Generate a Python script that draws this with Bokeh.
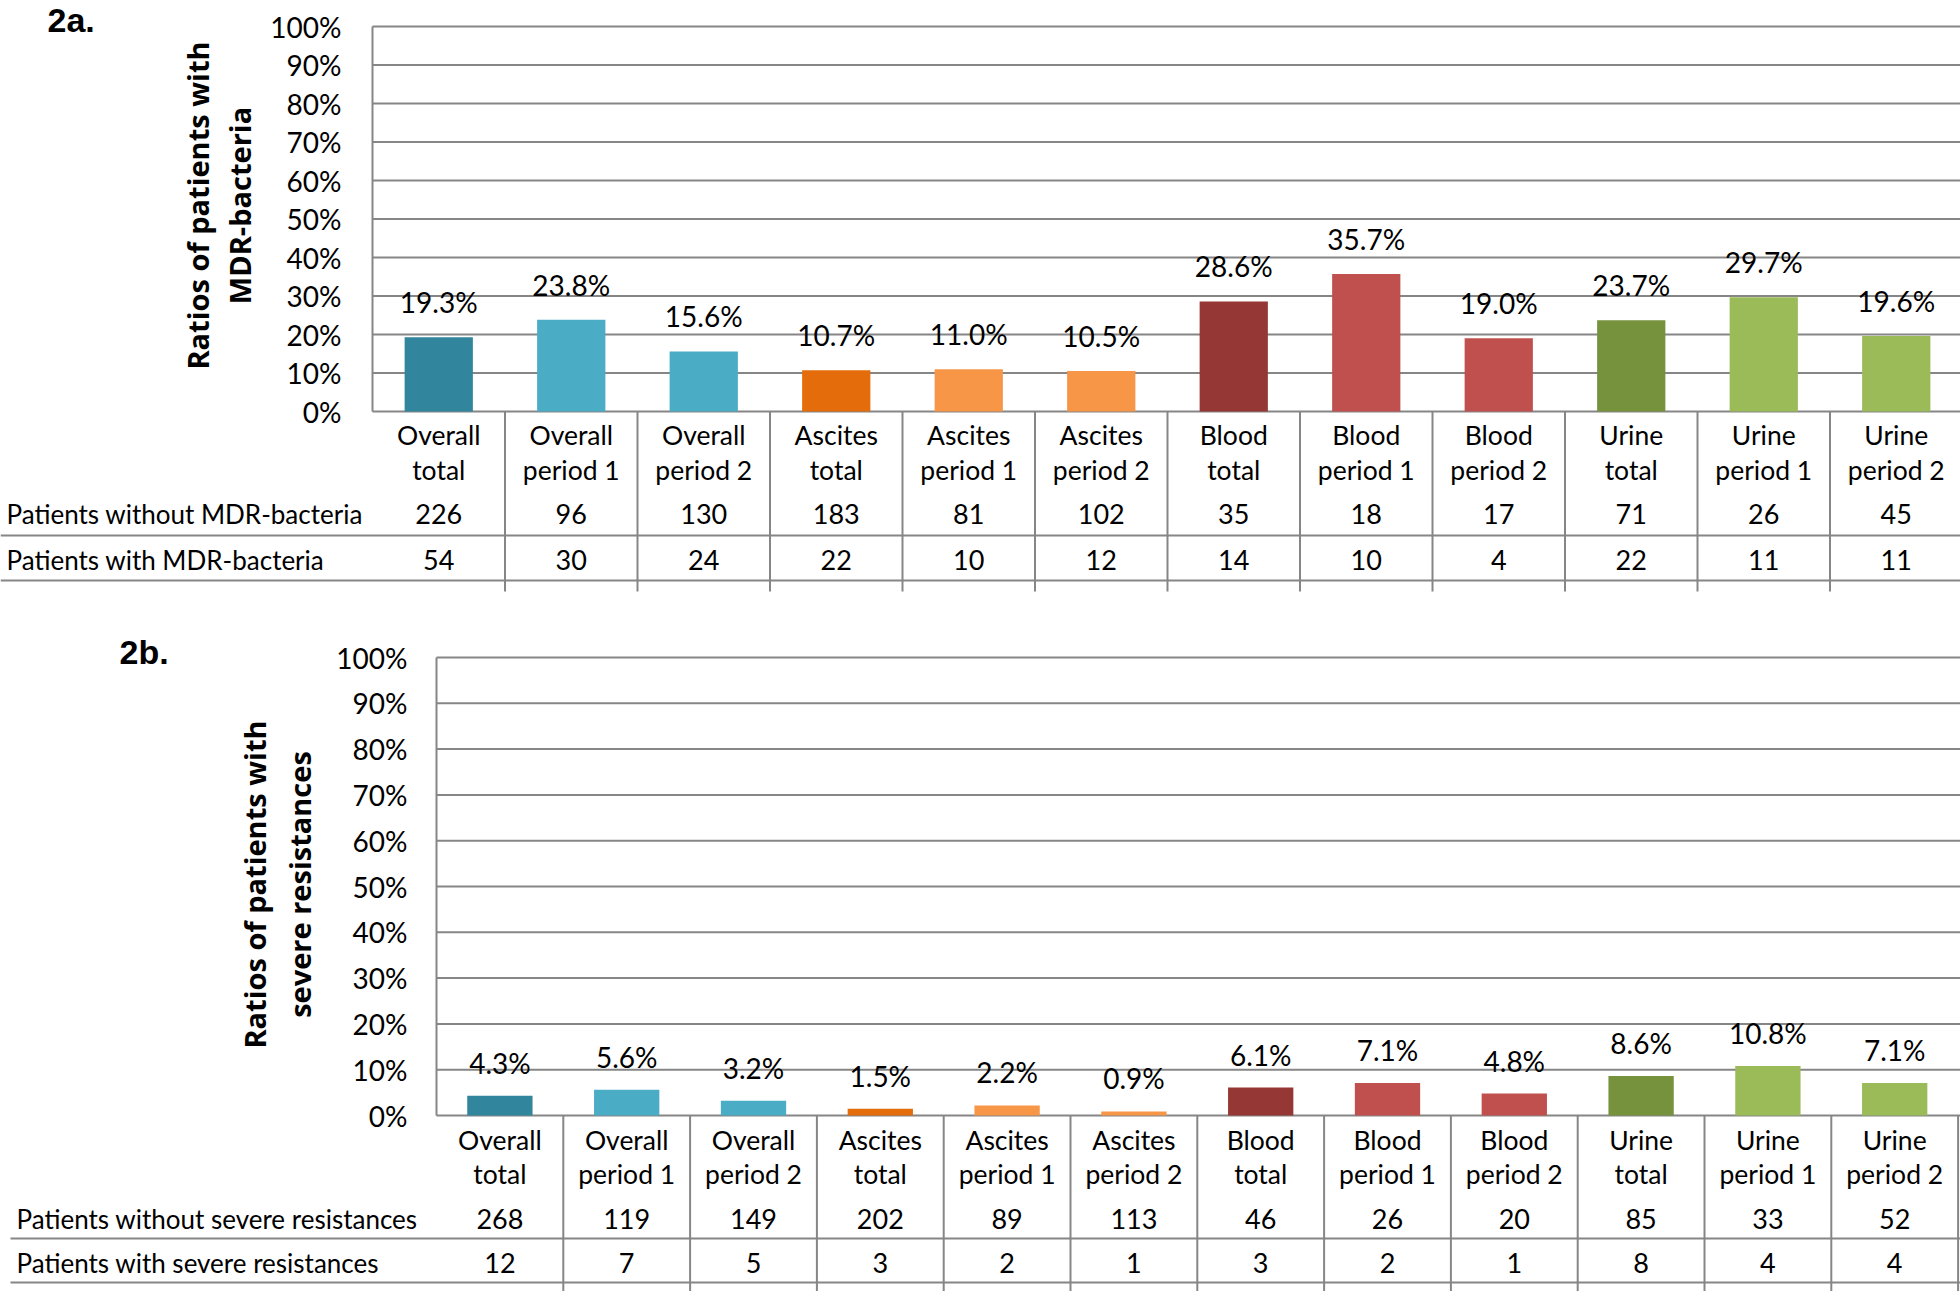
import numpy as np
from bokeh.plotting import figure
from bokeh.models import Range1d, LinearAxis, FixedTicker, NumeralTickFormatter
from bokeh.layouts import column
from bokeh.embed import file_html
from bokeh.resources import INLINE
from bokeh.core.properties import value

# ---------------- data ----------------
categories = ["Overall\ntotal", "Overall\nperiod 1", "Overall\nperiod 2",
              "Ascites\ntotal", "Ascites\nperiod 1", "Ascites\nperiod 2",
              "Blood\ntotal", "Blood\nperiod 1", "Blood\nperiod 2",
              "Urine\ntotal", "Urine\nperiod 1", "Urine\nperiod 2"]
y_ticks = [0.0, 0.1, 0.2, 0.3, 0.4, 0.5, 0.6, 0.7, 0.8, 0.9, 1.0]

mdr_ratio = [0.193, 0.238, 0.156, 0.107, 0.110, 0.105, 0.286, 0.357, 0.190, 0.237, 0.297, 0.196]
mdr_without = [226, 96, 130, 183, 81, 102, 35, 18, 17, 71, 26, 45]
mdr_with = [54, 30, 24, 22, 10, 12, 14, 10, 4, 22, 11, 11]

sev_ratio = [0.043, 0.056, 0.032, 0.015, 0.022, 0.009, 0.061, 0.071, 0.048, 0.086, 0.108, 0.071]
sev_without = [268, 119, 149, 202, 89, 113, 46, 26, 20, 85, 33, 52]
sev_with = [12, 7, 5, 3, 2, 1, 3, 2, 1, 8, 4, 4]

a_tag = "2a."
a_ylabel = ["Ratios of patients with", "MDR-bacteria"]
a_rows = ["Patients without MDR-bacteria", "Patients with MDR-bacteria"]
b_tag = "2b."
b_ylabel = ["Ratios of patients with", "severe resistances"]
b_rows = ["Patients without severe resistances", "Patients with severe resistances"]

# ---------------- style ----------------
bar_colors = ["#31859C", "#4BACC6", "#4BACC6", "#E46C0A", "#F79646", "#F79646",
              "#953735", "#C0504D", "#C0504D", "#76923C", "#9BBB59", "#9BBB59"]
W = 1960
FONT = "Lato"
BOLD_FONT = "Open Sans"
TAG_FONT = "Liberation Sans"
GRID = "#868686"


def make_panel(height, col_w, left_px, top_px, zero_px, ratios, without, with_,
               tag, ylabel, rows, lay):
    unit = zero_px - top_px
    x0 = -0.5 - left_px / col_w
    x1 = x0 + W / col_w

    def X(px):
        return x0 + px / col_w

    def Y(py):
        return (zero_px - py) / unit

    p = figure(width=W, height=height, x_range=Range1d(x0, x1),
               y_range=Range1d(Y(height), Y(0)), output_backend="svg",
               toolbar_location=None, min_border=0, x_axis_location=None,
               y_axis_location=None, outline_line_color=None, title=None)
    p.grid.visible = False
    p.background_fill_color = "white"
    p.border_fill_color = "white"

    idx = list(range(len(categories)))
    n = len(y_ticks)

    # gridlines
    p.segment(x0=[-0.5] * n, y0=y_ticks, x1=[x1] * n, y1=y_ticks,
              line_color=GRID, line_width=2)

    # y axis
    ax = LinearAxis(fixed_location=-0.5, bounds=(0, 1),
                    ticker=FixedTicker(ticks=y_ticks),
                    formatter=NumeralTickFormatter(format="0%"),
                    major_tick_line_color=None, minor_tick_line_color=None,
                    major_tick_out=0, major_tick_in=0,
                    axis_line_color=GRID, axis_line_width=2,
                    major_label_standoff=lay["standoff"],
                    major_label_text_font=FONT,
                    major_label_text_font_size="28px",
                    major_label_text_color="black")
    p.add_layout(ax, "left")

    # bars
    p.vbar(x=idx, top=ratios, width=0.515, bottom=0, fill_color=bar_colors,
           line_color=None)

    # data labels
    p.text(x=idx, y=ratios, text=[f"{r * 100:.1f}%" for r in ratios],
           text_align="center", text_baseline="middle", y_offset=lay["lab_off"],
           text_font=value(FONT), text_font_size="28px", text_color="black")

    # table vertical separators
    seps = [i + 0.5 for i in idx]
    p.segment(x0=seps, y0=[0] * len(seps), x1=seps,
              y1=[Y(lay["vend"])] * len(seps), line_color=GRID, line_width=2)
    # table horizontal lines
    for ly in (lay["line1"], lay["line2"]):
        p.segment(x0=[X(lay["line_x"])], y0=[Y(ly)], x1=[x1], y1=[Y(ly)],
                  line_color=GRID, line_width=2)

    # category labels
    first = [c.split("\n")[0] for c in categories]
    second = [c.split("\n")[1] for c in categories]
    for txt, c in ((first, lay["cat1"]), (second, lay["cat2"])):
        p.text(x=idx, y=[Y(c)] * len(idx), text=txt, text_align="center",
               text_baseline="middle", text_font=value(FONT),
               text_font_size="26.5px", text_color="black")

    # table rows
    for vals, c, lbl in ((without, lay["row1"], rows[0]), (with_, lay["row2"], rows[1])):
        p.text(x=idx, y=[Y(c)] * len(idx), text=[str(v) for v in vals],
               text_align="center", text_baseline="middle",
               text_font=value(FONT), text_font_size="27px", text_color="black")
        p.text(x=[X(lay["row_x"])], y=[Y(c)], text=[lbl], text_align="left",
               text_baseline="middle", text_font=value(FONT),
               text_font_size="26px", text_color="black")

    # panel tag
    p.text(x=[X(lay["tag_x"])], y=[Y(lay["tag_y"])], text=[tag],
           text_align="left", text_baseline="middle", text_font=value(TAG_FONT),
           text_font_style="bold", text_font_size="34px", text_color="black")

    # y title (two rotated lines)
    for line, bx in zip(ylabel, (lay["yl1"], lay["yl2"])):
        p.text(x=[X(bx)], y=[Y(lay["yl_y"])], text=[line], angle=np.pi / 2,
               text_align="center", text_baseline="middle",
               text_font=value(BOLD_FONT), text_font_style="bold",
               text_font_size="29px", text_color="black")
    return p


lay_a = dict(standoff=31, lab_off=-35, cat1=434, cat2=469, row1=513, row2=559,
             line1=535, line2=580, vend=591, line_x=0, row_x=6,
             tag_x=47, tag_y=19.5, yl1=197, yl2=239, yl_y=205)
lay_b = dict(standoff=29, lab_off=-33, cat1=539, cat2=573.5, row1=618.5,
             row2=662.5, line1=638, line2=682, vend=691, line_x=10, row_x=16,
             tag_x=119, tag_y=51, yl1=254, yl2=299, yl_y=284)

pa = make_panel(600, 132.5, 372, 26, 411, mdr_ratio, mdr_without, mdr_with,
                a_tag, a_ylabel, a_rows, lay_a)
pb = make_panel(691, 126.8, 436, 57, 515, sev_ratio, sev_without, sev_with,
                b_tag, b_ylabel, b_rows, lay_b)

layout = column(pa, pb, spacing=0)
open("out.html", "w").write(file_html(layout, INLINE))
